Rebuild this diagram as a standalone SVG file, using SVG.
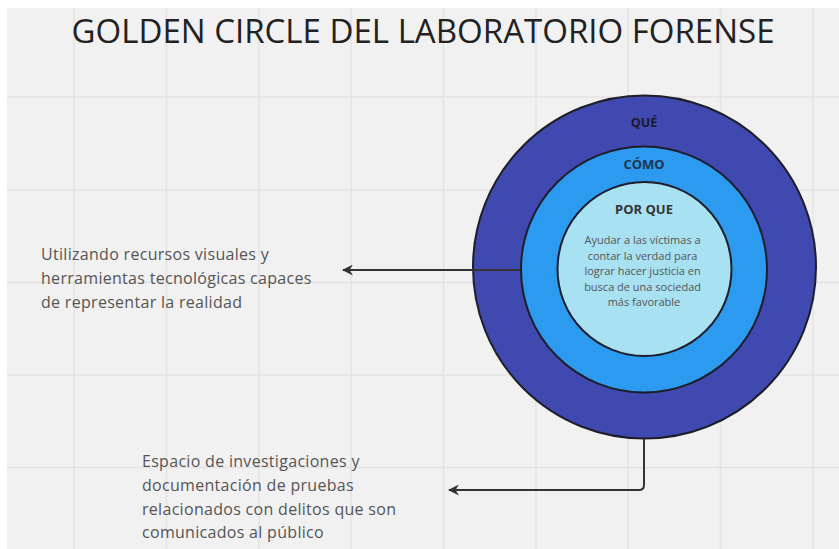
<svg xmlns="http://www.w3.org/2000/svg" width="839" height="549" viewBox="0 0 839 549">
<style>
.grid{stroke:#e3e3e3;stroke-width:1.5;fill:none}
.ring{stroke:#1e1e2a;stroke-width:2}
.head{font-family:"Open Sans","Liberation Sans",sans-serif;font-weight:bold;text-anchor:middle}
.body{font-family:"Open Sans","Liberation Sans",sans-serif;fill:#555}
.side{font-size:16px;letter-spacing:0.3px}
.conn{stroke:#333;stroke-width:2;fill:none}
</style>
<defs>
<marker id="arr" viewBox="0 0 11 11" refX="10" refY="5.5" markerWidth="5.5" markerHeight="5.5" orient="auto" markerUnits="strokeWidth">
<path d="M11,5.5 L0,0 L3.5,5.5 L0,11 Z" fill="#333"/>
</marker>
</defs>
<rect width="839" height="549" fill="#ffffff"/>
<rect x="7" y="8" width="832" height="541" fill="#f1f1f1"/>
<g class="grid">
<path d="M74 8V549M166.5 8V549M259 8V549M351 8V549M443.5 8V549M536 8V549M628 8V549M720.5 8V549M813 8V549"/>
<path d="M7 97H839M7 190H839M7 282.5H839M7 375H839M7 467.5H839"/>
</g>
<text x="423" y="43" font-family="Open Sans, Liberation Sans, sans-serif" font-size="33" fill="#222" text-anchor="middle" textLength="703" lengthAdjust="spacingAndGlyphs">GOLDEN CIRCLE DEL LABORATORIO FORENSE</text>
<g id="que">
<circle class="ring" cx="644.5" cy="267" r="171.5" fill="#4049B0"/>
<text class="head" x="644" y="127" font-size="12.5" fill="#1b1b2e">QUÉ</text>
</g>
<g id="como">
<circle class="ring" cx="644" cy="269.5" r="123" fill="#2C9AEE"/>
<text class="head" x="644" y="169" font-size="13" fill="#1d3550">CÓMO</text>
</g>
<g id="porque">
<circle class="ring" cx="644.5" cy="269" r="87" fill="#A8E2F2"/>
<text class="head" x="644" y="214" font-size="13" fill="#333">POR QUE</text>
<text class="body" font-size="11" text-anchor="middle">
<tspan x="644" y="244">Ayudar a las víctimas a</tspan>
<tspan x="644" y="259.5">contar la verdad para</tspan>
<tspan x="644" y="275">lograr hacer justicia en</tspan>
<tspan x="644" y="290.5">busca de una sociedad</tspan>
<tspan x="644" y="306">más favorable</tspan>
</text>
</g>
<g id="connectors">
<path class="conn" d="M520 270H343" marker-end="url(#arr)"/>
<path class="conn" d="M644 439V485Q644 490 639 490H449" marker-end="url(#arr)"/>
</g>
<g id="como-text">
<text class="body side">
<tspan x="41" y="260">Utilizando recursos visuales y</tspan>
<tspan x="41" y="284">herramientas tecnológicas capaces</tspan>
<tspan x="41" y="308">de representar la realidad</tspan>
</text>
</g>
<g id="que-text">
<text class="body side">
<tspan x="142" y="467">Espacio de investigaciones y</tspan>
<tspan x="142" y="491">documentación de pruebas</tspan>
<tspan x="142" y="514.5">relacionados con delitos que son</tspan>
<tspan x="142" y="538">comunicados al público</tspan>
</text>
</g>
</svg>
